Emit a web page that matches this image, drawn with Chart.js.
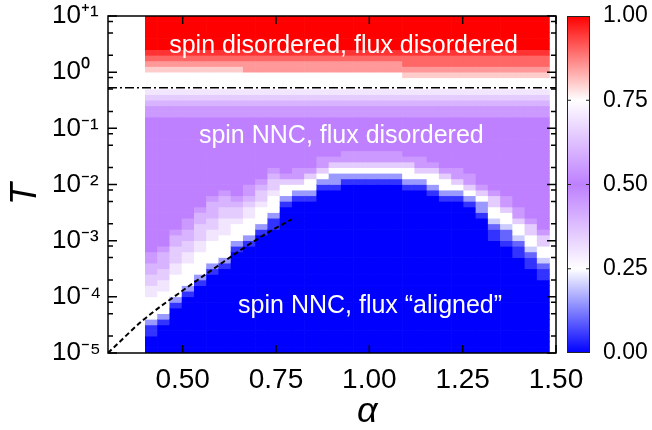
<!DOCTYPE html>
<html><head><meta charset="utf-8">
<script src="https://cdn.jsdelivr.net/npm/chart.js@4.4.1/dist/chart.umd.min.js"></script>
<style>html,body{margin:0;padding:0;background:#fff}#wrap{width:652px;height:430px;position:relative}</style>
</head><body><div id="wrap"><canvas id="c"></canvas></div>
<script>
// ---------------- data ----------------
// column centres in alpha
const alphaCols = [0.4164,0.4492,0.4820,0.5148,0.5476,0.5804,0.6132,0.6460,0.6788,0.7116,0.7444,
  0.7772,0.8100,0.8428,0.8756,0.9084,0.9412,0.9740,1.0068,1.0396,1.0724,1.1052,1.1380,1.1708,
  1.2036,1.2364,1.2692,1.3020,1.3348,1.3676,1.4004,1.4332,1.4660];
// row edges, log10(T)
const rowExp = [-5.0,-4.9,-4.8,-4.7,-4.6,-4.5,-4.4,-4.3,-4.2,-4.1,-4.0,-3.9,-3.8,-3.7,-3.6,-3.5,-3.4,-3.3,
  -3.2,-3.1,-3.0,-2.9,-2.8,-2.7,-2.6,-2.5,-2.4,-2.3,-2.2,-2.1,-2.0,-1.9,-1.8,-1.7,-1.6,-1.5,-1.4,-1.3,
  -1.2,-1.1,-1.0,-0.9,-0.8,-0.7,-0.6,-0.5,-0.4,-0.3,-0.2,-0.1,0.0,0.1,0.2,0.3,0.4,0.5,0.6,0.7,0.8,0.9,1.0];
// value levels: '0'..'K' -> 0.00..1.00 in steps of 0.05
const levelChars = "0123456789ABCDEFGHIJK";
// number of fully "aligned" (value 0) rows at the bottom of each column
const blueRows = [3,5,8,10,12,14,15,18,19,21,22,26,27,27,29,29,30,30,30,30,30,29,29,28,27,27,26,24,20,19,17,15,13];
// levels across the lower transition of each column (followed by 0.50 up to row 41)
const edgeProfile = ["113555566778899","13555566778889","13555566777889","13555566778899","13555566777889",
  "13555566778889","13555566677889","1355567789","13555667899","1355567789","11355567789",
  "135579","135799","135579","135799","133579","135799","135799","135799","135799","135799",
  "135579","135799","135579","135579","135799","135799","133579",
  "112455779","122455799","112455799","112455779","112455779"];
// levels of the upper 19 rows (log T from -0.9 to 1.0)
const topProfiles = ["ABBCDEFFFGHIJKKKKKK","ABBCDEFFFHHIJKKKKKK","ABBCDEFFGHIIJKKKKKK"];
const topKind = [0,0,0,0,0,0,0,0,1,1,1,1,1,1,1,1,1,1,1,1,1,2,2,2,2,2,2,2,2,2,2,2,2];
// dashed crossover line
const dashAlpha = [0.30,0.395,0.502,0.591,0.662,0.725,0.792];
const dashT = [1.0e-5,3.9e-5,1.32e-4,3.44e-4,7.3e-4,1.35e-3,2.4e-3];
// dash-dot spin transition temperature
const spinT = 0.53;
const spinAlpha = [0.3, 1.5];
// ticks
const xTickVals = [0.5,0.75,1.0,1.25,1.5];
const xTickLabels = ["0.50","0.75","1.00","1.25","1.50"];
const yTickVals = [1e-5,1e-4,1e-3,1e-2,1e-1,1,10];
const yTickLabels = ["10\u207B\u2075","10\u207B\u2074","10\u207B\u00B3","10\u207B\u00B2","10\u207B\u00B9","10\u2070","10\u207A\u00B9"];
const cbTickVals = [0,0.25,0.5,0.75,1];
const cbTickLabels = ["0.00","0.25","0.50","0.75","1.00"];
// region labels
const regionLabels = ["spin disordered, flux disordered","spin NNC, flux disordered","spin NNC, flux \u201Caligned\u201D"];
const regionAt = [[0.931,2.19],[0.925,0.0548],[1.002,5.15e-5]];

// ---------------- styles ----------------
const FAM = "'Liberation Sans', Arial, Helvetica, sans-serif";
const cStops = [0,0.25,0.5,0.75,1];
const cRGB = [[0,0,255],[255,255,255],[190,128,255],[255,255,255],[255,0,0]];
function rgb(c){return `rgb(${Math.round(c[0])},${Math.round(c[1])},${Math.round(c[2])})`;}
function colorFor(v){
  for(let i=0;i<cStops.length-1;i++){
    if(v<=cStops[i+1]){
      const t=(v-cStops[i])/(cStops[i+1]-cStops[i]);
      const a=cRGB[i],b=cRGB[i+1];
      return rgb([a[0]+(b[0]-a[0])*t,a[1]+(b[1]-a[1])*t,a[2]+(b[2]-a[2])*t]);
    }
  }
  return rgb(cRGB[cRGB.length-1]);
}

// ---------------- build cells ----------------
const cells=[], cellColors=[];
alphaCols.forEach((a,k)=>{
  const lower=("0".repeat(blueRows[k])+edgeProfile[k]).padEnd(41,"A");
  const col=lower+topProfiles[topKind[k]];
  for(let j=0;j<rowExp.length-1;j++){
    const v=levelChars.indexOf(col[j])/20;
    cells.push({x:a,y:[Math.pow(10,rowExp[j]),Math.pow(10,rowExp[j+1])],v});
    cellColors.push(colorFor(v));
  }
});
const dashPts=dashAlpha.map((a,i)=>({x:a,y:dashT[i]}));
const spinPts=spinAlpha.map(a=>({x:a,y:spinT}));

// widest y label for far alignment
const mctx=document.createElement('canvas').getContext('2d');
mctx.font=`26px ${FAM}`;
const widestY=Math.max(...yTickLabels.map(t=>mctx.measureText(t).width));

const decor={
  id:'decor',
  beforeDraw(chart){const c=chart.ctx;c.save();c.fillStyle='#fff';c.fillRect(0,0,chart.width,chart.height);c.restore();},
  afterDatasetsDraw(chart){
    const {ctx,chartArea:a,scales:{x,y,cb}}=chart;
    ctx.save();
    // region labels
    ctx.fillStyle='#fff';ctx.font=`25px ${FAM}`;ctx.textAlign='center';ctx.textBaseline='alphabetic';
    regionLabels.forEach((t,i)=>ctx.fillText(t,x.getPixelForValue(regionAt[i][0]),y.getPixelForValue(regionAt[i][1])));
    // inward ticks
    ctx.strokeStyle='#000';ctx.lineWidth=1.5;ctx.beginPath();
    xTickVals.forEach(v=>{const p=x.getPixelForValue(v);ctx.moveTo(p,a.bottom);ctx.lineTo(p,a.bottom-8);ctx.moveTo(p,a.top);ctx.lineTo(p,a.top+8);});
    yTickVals.forEach(v=>{const p=y.getPixelForValue(v);ctx.moveTo(a.left,p);ctx.lineTo(a.left+9,p);ctx.moveTo(a.right,p);ctx.lineTo(a.right-9,p);
      [2,5,8].forEach(m=>{const t=v*m;if(t>=10)return;const q=y.getPixelForValue(t);ctx.moveTo(a.left,q);ctx.lineTo(a.left+5,q);ctx.moveTo(a.right,q);ctx.lineTo(a.right-5,q);});
    });
    ctx.stroke();
    ctx.strokeRect(a.left,a.top,a.right-a.left,a.bottom-a.top);
    // colour bar
    const top=cb.getPixelForValue(1),bot=cb.getPixelForValue(0);
    const bx=a.right+11,bw=23;
    const g=ctx.createLinearGradient(0,bot,0,top);
    cStops.forEach((s,i)=>g.addColorStop(s,rgb(cRGB[i])));
    ctx.fillStyle=g;ctx.fillRect(bx,top,bw,bot-top);
    ctx.lineWidth=1;ctx.strokeStyle='#222';ctx.strokeRect(bx+0.5,top+0.5,bw-1,bot-top-1);
    ctx.beginPath();
    cbTickVals.slice(1,-1).forEach(v=>{const p=cb.getPixelForValue(v);ctx.moveTo(bx,p);ctx.lineTo(bx+4,p);ctx.moveTo(bx+bw,p);ctx.lineTo(bx+bw-4,p);});
    ctx.stroke();
    // axis titles
    ctx.fillStyle='#000';ctx.font=`italic 36px ${FAM}`;ctx.textAlign='center';ctx.textBaseline='alphabetic';
    ctx.fillText('\u03B1',x.getPixelForValue(1.0)-2,422);
    ctx.translate(36,194);ctx.rotate(-Math.PI/2);ctx.fillText('T',0,0);
    ctx.restore();
  }
};

new Chart(document.getElementById('c'),{
  type:'bar',
  data:{datasets:[
    {type:'line',data:dashPts,borderColor:'#000',borderWidth:2,borderDash:[5,3],pointRadius:0,cubicInterpolationMode:'monotone',order:0},
    {type:'line',data:spinPts,borderColor:'#000',borderWidth:1.5,borderDash:[9,3,2,3],pointRadius:0,order:1},
    {type:'bar',data:cells,backgroundColor:cellColors,borderWidth:0,barPercentage:1,categoryPercentage:1,order:10}
  ]},
  options:{
    animation:false,responsive:true,maintainAspectRatio:false,
    layout:{padding:{top:16,left:52,right:0,bottom:0}},
    plugins:{legend:{display:false},tooltip:{enabled:false}},
    scales:{
      x:{type:'linear',min:0.3,max:1.5,offset:false,
        grid:{display:false,drawTicks:true,tickLength:10},border:{display:false},
        afterBuildTicks:s=>{s.ticks=xTickVals.map(v=>({value:v}));},
        ticks:{callback:(v,i)=>xTickLabels[i],font:{family:FAM,size:28},color:'#000',padding:0,maxRotation:0,autoSkip:false},
        afterFit:s=>{s.height=77;}},
      y:{type:'logarithmic',min:1e-5,max:10,
        grid:{display:false,drawTicks:true,tickLength:Math.max(0,56-widestY)},border:{display:false},
        afterBuildTicks:s=>{s.ticks=yTickVals.map(v=>({value:v}));},
        ticks:{callback:(v,i)=>yTickLabels[i],font:{family:FAM,size:26},color:'#000',crossAlign:'far',padding:0,autoSkip:false},
        afterFit:s=>{s.width=56;}},
      cb:{type:'linear',position:'right',min:0,max:1,display:true,
        grid:{display:false,drawTicks:true,tickLength:47},border:{display:false},
        afterBuildTicks:s=>{s.ticks=cbTickVals.map(v=>({value:v}));},
        ticks:{callback:(v,i)=>cbTickLabels[i],font:{family:FAM,size:23},color:'#000',padding:0,autoSkip:false},
        afterFit:s=>{s.width=96;}}
    }
  },
  plugins:[decor]
});
</script></body></html>
